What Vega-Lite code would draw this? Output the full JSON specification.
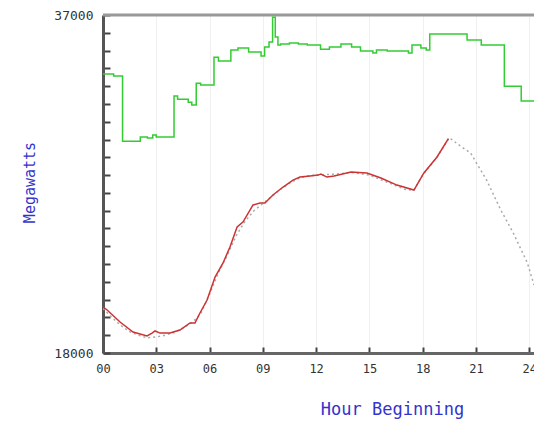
{
  "$schema": "https://vega.github.io/schema/vega-lite/v6.json",
  "width": 431,
  "height": 338,
  "autosize": {"type": "none"},
  "padding": {"left": 103, "top": 15, "right": 0, "bottom": 71},
  "background": "white",
  "config": {"view": {"stroke": null}, "font": "DejaVu Sans Mono"},
  "datasets": {
    "border": [{"h": 0, "v": 37000}, {"h": 24.27, "v": 37000}],
    "green": [
      {"h": 0, "v": 33680}, {"h": 0.6, "v": 33570}, {"h": 1.1, "v": 29900}, {"h": 2.1, "v": 30140},
      {"h": 2.5, "v": 30080}, {"h": 2.8, "v": 30250}, {"h": 3.0, "v": 30140}, {"h": 4.0, "v": 32440},
      {"h": 4.2, "v": 32270}, {"h": 4.8, "v": 32100}, {"h": 5.0, "v": 31940}, {"h": 5.25, "v": 33170},
      {"h": 5.5, "v": 33060}, {"h": 6.25, "v": 34630}, {"h": 6.5, "v": 34410}, {"h": 7.2, "v": 35030},
      {"h": 7.6, "v": 35140}, {"h": 8.2, "v": 34920}, {"h": 8.9, "v": 34690}, {"h": 9.1, "v": 35200},
      {"h": 9.35, "v": 35480}, {"h": 9.55, "v": 36880}, {"h": 9.7, "v": 35760}, {"h": 9.85, "v": 35310},
      {"h": 10.0, "v": 35370}, {"h": 10.5, "v": 35420}, {"h": 11.0, "v": 35370}, {"h": 11.5, "v": 35310},
      {"h": 12.25, "v": 35080}, {"h": 12.75, "v": 35200}, {"h": 13.4, "v": 35370}, {"h": 14.0, "v": 35200},
      {"h": 14.5, "v": 34970}, {"h": 15.2, "v": 34860}, {"h": 15.4, "v": 35030}, {"h": 16.0, "v": 34970},
      {"h": 17.2, "v": 34860}, {"h": 17.4, "v": 35310}, {"h": 17.9, "v": 35140}, {"h": 18.2, "v": 35030},
      {"h": 18.4, "v": 35930}, {"h": 20.5, "v": 35590}, {"h": 21.3, "v": 35310}, {"h": 22.6, "v": 33000},
      {"h": 23.55, "v": 32160}, {"h": 24.27, "v": 32160}
    ],
    "forecast": [
      {"h": 0, "v": 20500}, {"h": 0.5, "v": 20000}, {"h": 1, "v": 19550}, {"h": 1.5, "v": 19200},
      {"h": 2, "v": 19000}, {"h": 2.5, "v": 18850}, {"h": 3, "v": 18900}, {"h": 3.5, "v": 19000},
      {"h": 4, "v": 19150}, {"h": 4.5, "v": 19400}, {"h": 5, "v": 19700}, {"h": 5.5, "v": 20200},
      {"h": 6, "v": 21300}, {"h": 6.5, "v": 22500}, {"h": 7, "v": 23500}, {"h": 7.5, "v": 24600},
      {"h": 8, "v": 25400}, {"h": 8.5, "v": 26000}, {"h": 9, "v": 26400}, {"h": 9.5, "v": 26800},
      {"h": 10, "v": 27200}, {"h": 10.5, "v": 27550}, {"h": 11, "v": 27800}, {"h": 11.5, "v": 27950},
      {"h": 12, "v": 28000}, {"h": 13, "v": 28050}, {"h": 14, "v": 28150}, {"h": 15, "v": 28000},
      {"h": 16, "v": 27600}, {"h": 17, "v": 27200}, {"h": 17.5, "v": 27150}, {"h": 18, "v": 28000},
      {"h": 18.8, "v": 29000}, {"h": 19.5, "v": 30100}, {"h": 20.2, "v": 29580}, {"h": 20.7, "v": 29240},
      {"h": 21.6, "v": 27720}, {"h": 22.4, "v": 26040}, {"h": 23.1, "v": 24750}, {"h": 23.9, "v": 23060},
      {"h": 24.27, "v": 21820}
    ],
    "actual": [
      {"h": 0, "v": 20600}, {"h": 0.23, "v": 20420}, {"h": 0.96, "v": 19740}, {"h": 1.69, "v": 19180},
      {"h": 2.48, "v": 18960}, {"h": 2.76, "v": 19120}, {"h": 2.93, "v": 19240}, {"h": 3.21, "v": 19120},
      {"h": 3.77, "v": 19120}, {"h": 4.33, "v": 19290}, {"h": 4.9, "v": 19690}, {"h": 5.18, "v": 19690},
      {"h": 5.46, "v": 20250}, {"h": 5.86, "v": 20980}, {"h": 6.31, "v": 22270}, {"h": 6.76, "v": 23060},
      {"h": 7.15, "v": 23960}, {"h": 7.55, "v": 25080}, {"h": 7.88, "v": 25360}, {"h": 8.45, "v": 26320},
      {"h": 8.84, "v": 26430}, {"h": 9.12, "v": 26430}, {"h": 9.57, "v": 26880}, {"h": 10.14, "v": 27330},
      {"h": 10.7, "v": 27720}, {"h": 11.09, "v": 27890}, {"h": 11.66, "v": 27950}, {"h": 12.11, "v": 28000},
      {"h": 12.27, "v": 28060}, {"h": 12.61, "v": 27890}, {"h": 13.01, "v": 27950}, {"h": 13.96, "v": 28170},
      {"h": 14.86, "v": 28120}, {"h": 15.65, "v": 27840}, {"h": 16.55, "v": 27440}, {"h": 17.51, "v": 27160},
      {"h": 18.07, "v": 28120}, {"h": 18.81, "v": 29020}, {"h": 19.45, "v": 30050}
    ]
  },
  "encoding": {
    "x": {
      "field": "h",
      "type": "quantitative",
      "scale": {"domain": [0, 24.27], "nice": false, "zero": false},
      "axis": {
        "values": [0, 3, 6, 9, 12, 15, 18, 21, 24],
        "labelExpr": "(datum.value < 10 ? '0' : '') + datum.value",
        "labelFont": "DejaVu Sans Mono",
        "labelFontSize": 12,
        "labelColor": "#333",
        "labelFlush": false,
        "labelOverlap": false,
        "labelPadding": 16,
        "labelBaseline": "top",
        "domainColor": "#666",
        "domainWidth": 3,
        "tickColor": "#444",
        "tickSize": -6,
        "tickWidth": 2,
        "grid": true,
        "gridColor": "#f0f0f0",
        "title": "Hour Beginning",
        "titleFont": "DejaVu Sans Mono",
        "titleFontSize": 17,
        "titleFontWeight": "normal",
        "titleColor": "#3333cc",
        "titleX": 289,
        "titleY": 56,
        "titleAlign": "center",
        "titleBaseline": "middle",
        "titleAnchor": null
      }
    },
    "y": {
      "field": "v",
      "type": "quantitative",
      "scale": {"domain": [18000, 37000], "nice": false, "zero": false},
      "axis": {
        "values": [18000, 19000, 20000, 21000, 22000, 23000, 24000, 25000, 26000, 27000, 28000, 29000, 30000, 31000, 32000, 33000, 34000, 35000, 36000, 37000],
        "labelExpr": "(datum.value == 18000 || datum.value == 37000) ? '' + datum.value : ''",
        "labelFont": "DejaVu Sans Mono",
        "labelFontSize": 13,
        "labelColor": "#333",
        "labelFlush": false,
        "labelOverlap": false,
        "labelPadding": 17,
        "domainColor": "#555",
        "domainWidth": 3,
        "tickColor": "#444",
        "tickSize": -7,
        "tickWidth": 2,
        "grid": false,
        "title": "Megawatts",
        "titleFont": "DejaVu Sans Mono",
        "titleFontSize": 15,
        "titleFontWeight": "normal",
        "titleColor": "#3333cc",
        "titleX": -74,
        "titleY": 167,
        "titleAlign": "center",
        "titleBaseline": "middle",
        "titleAngle": -90,
        "titleAnchor": null
      }
    }
  },
  "layer": [
    {"data": {"name": "border"}, "mark": {"type": "line", "color": "#999", "strokeWidth": 3}},
    {"data": {"name": "green"}, "mark": {"type": "line", "interpolate": "step-after", "color": "#33cc33", "strokeWidth": 1.5, "clip": true}},
    {"data": {"name": "forecast"}, "mark": {"type": "line", "color": "#aaaaaa", "strokeDash": [2, 3], "strokeWidth": 1.5, "clip": true}},
    {"data": {"name": "actual"}, "mark": {"type": "line", "color": "#cc3333", "strokeWidth": 1.5, "clip": true}}
  ]
}
